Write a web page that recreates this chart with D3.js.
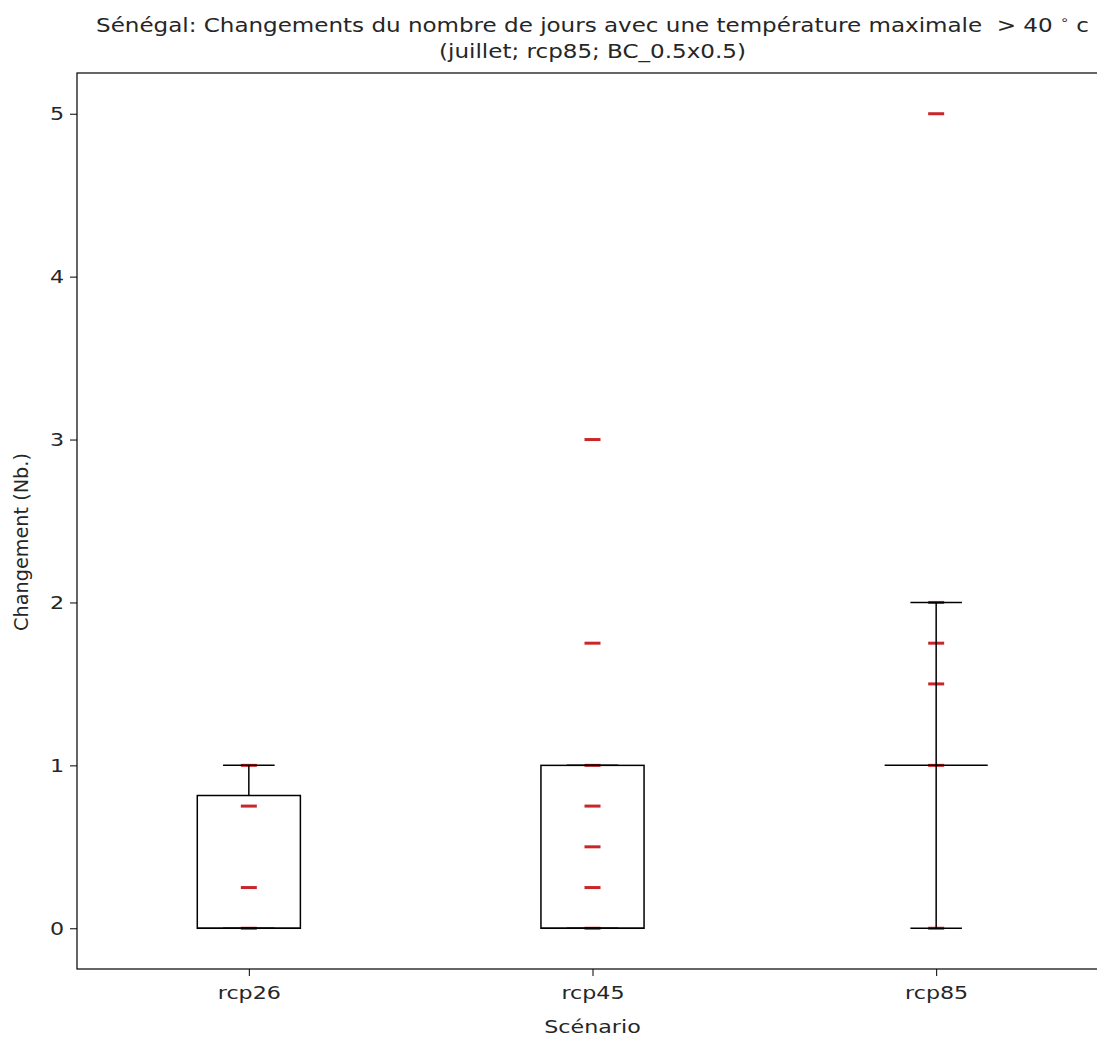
<!DOCTYPE html>
<html><head><meta charset="utf-8">
<script src="https://cdn.jsdelivr.net/npm/d3@7"></script>
<style>body{margin:0;background:#fff}svg{display:block}text{font-family:"DejaVu Sans",sans-serif;fill:#262626;white-space:pre}</style>
</head><body>
<script>
const categories = ["rcp26", "rcp45", "rcp85"];
const points = [
  [0, 0.25, 0.75, 1],
  [0, 0.25, 0.5, 0.75, 1, 1.75, 3],
  [0, 1, 1.5, 1.75, 2, 5]
];
const q1 = [0, 0, 1];
const median = [0, 0, 1];
const q3 = [0.815, 1, 1];
const whiskerLow = [0, 0, 0];
const whiskerHigh = [1, 1, 2];
const yTicks = [0, 1, 2, 3, 4, 5];
const titleLines = ["Sénégal: Changements du nombre de jours avec une température maximale  > 40", "(juillet; rcp85; BC_0.5x0.5)"];
const xLabel = "Scénario";
const yLabel = "Changement (Nb.)";

const W = 1097, H = 1039;
const L = 77, R = 1108, T = 73, B = 969;
const FS = 18.5, TFS = 19.2, SX = 1.2;
const svg = d3.select("body").append("svg").attr("width", W).attr("height", H);

const x = d3.scalePoint().domain(categories).range([L, R]).padding(0.5);
const y = d3.scaleLinear().domain([-0.25, 5.25]).range([B, T]);
const unit = x.step();
const boxW = 0.3 * unit, capW = 0.15 * unit, markW = 16;

// red markers (data points)
const g = svg.append("g");
categories.forEach((c, i) => {
  g.selectAll(null).data(points[i]).enter().append("line")
    .attr("x1", x(c) - markW / 2).attr("x2", x(c) + markW / 2)
    .attr("y1", d => y(d)).attr("y2", d => y(d))
    .attr("stroke", "#c9262a").attr("stroke-width", 3);
});

// boxes
const bg = svg.append("g").attr("stroke", "#000").attr("stroke-width", 1.5).attr("fill", "none");
categories.forEach((c, i) => {
  const cx = x(c);
  bg.append("rect").attr("x", cx - boxW / 2).attr("y", y(q3[i]))
    .attr("width", boxW).attr("height", Math.max(0, y(q1[i]) - y(q3[i])));
  bg.append("line").attr("x1", cx).attr("x2", cx).attr("y1", y(q1[i])).attr("y2", y(whiskerLow[i]));
  bg.append("line").attr("x1", cx).attr("x2", cx).attr("y1", y(q3[i])).attr("y2", y(whiskerHigh[i]));
  [whiskerLow[i], whiskerHigh[i]].forEach(v => {
    bg.append("line").attr("x1", cx - capW / 2).attr("x2", cx + capW / 2).attr("y1", y(v)).attr("y2", y(v));
  });
  bg.append("line").attr("x1", cx - boxW / 2).attr("x2", cx + boxW / 2).attr("y1", y(median[i])).attr("y2", y(median[i]));
});

// axes
const yAxis = d3.axisLeft(y).tickValues(yTicks).tickFormat(d3.format("d")).tickSizeOuter(0).tickSize(7).tickPadding(6);
const xAxis = d3.axisBottom(x).tickSizeOuter(0).tickSize(7).tickPadding(10);
const ya = svg.append("g").attr("transform", `translate(${L},0)`).call(yAxis);
const xa = svg.append("g").attr("transform", `translate(0,${B})`).call(xAxis);
[ya, xa].forEach(a => {
  a.select(".domain").remove();
  a.selectAll("line").attr("stroke", "#000").attr("stroke-width", 1);
  a.selectAll("text").attr("font-size", FS).attr("fill", "#262626").style("font-family", "DejaVu Sans");
});
xa.selectAll("text").attr("transform", `scale(${SX},1)`);
ya.selectAll("text").attr("x", -13 / SX).attr("transform", `scale(${SX},1)`);
svg.append("rect").attr("x", L).attr("y", T).attr("width", R - L).attr("height", B - T)
  .attr("fill", "none").attr("stroke", "#000").attr("stroke-width", 1.2);

// labels
function htext(px, py, fs) {
  return svg.append("text").attr("transform", `translate(${px},${py}) scale(${SX},1)`)
    .attr("text-anchor", "middle").attr("font-size", fs);
}
htext((L + R) / 2, 1033, FS).text(xLabel);
svg.append("text").attr("transform", `translate(28,542) rotate(-90) scale(1.04,1.08)`)
  .attr("text-anchor", "middle").attr("font-size", FS).text(yLabel);
const t1 = htext((L + R) / 2, 32, TFS);
t1.append("tspan").text(titleLines[0] + " ");
t1.append("tspan").attr("font-size", 12).attr("dy", -8).text("∘");
t1.append("tspan").attr("font-size", TFS).attr("dy", 8).text(" c");
htext((L + R) / 2, 58, TFS).text(titleLines[1]);
</script>
</body></html>
